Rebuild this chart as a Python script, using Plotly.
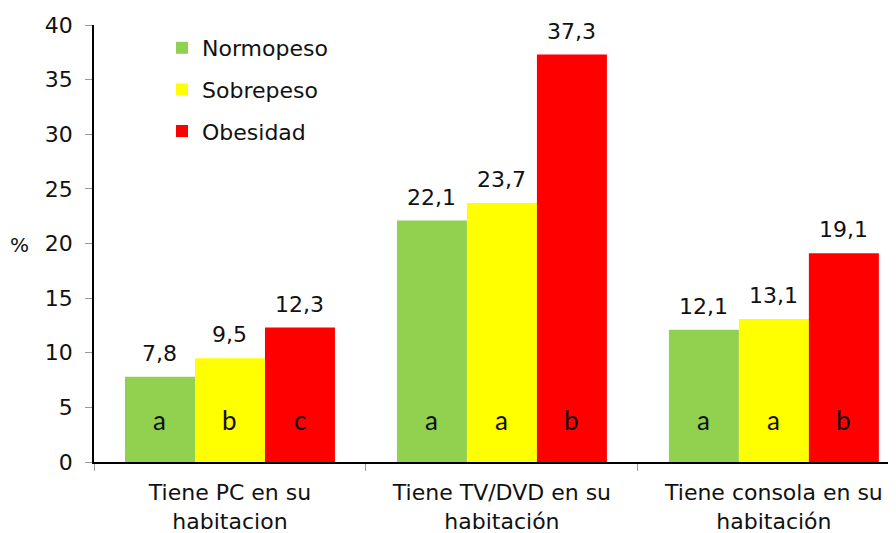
import plotly.graph_objects as go

categories = ["Tiene PC en su<br>habitacion", "Tiene TV/DVD en su<br>habitación", "Tiene consola en su<br>habitación"]
series_names = ["Normopeso", "Sobrepeso", "Obesidad"]
normopeso = [7.8, 22.1, 12.1]
sobrepeso = [9.5, 23.7, 13.1]
obesidad = [12.3, 37.3, 19.1]
letters_normopeso = ["a", "a", "a"]
letters_sobrepeso = ["b", "a", "a"]
letters_obesidad = ["c", "b", "b"]
y_ticks = [0, 5, 10, 15, 20, 25, 30, 35, 40]

values = [normopeso, sobrepeso, obesidad]
letters = [letters_normopeso, letters_sobrepeso, letters_obesidad]
colors = ["#92D050", "#FFFF00", "#FF0000"]

FONT = "DejaVu Sans"
bargap = 0.228
bw = (1 - bargap) / 3
offsets = [-bw, 0, bw]

# the page body has an 8px default margin; figure is sized to fill the rest
PAGE_OFF = 8
W, H = 896 - PAGE_OFF, 533 - PAGE_OFF
L, T, B, R = 94 - PAGE_OFF, 25 - PAGE_OFF, 71, 0
PW, PH = W - L - R, H - T - B

fig = go.Figure()
for i, name in enumerate(series_names):
    fig.add_trace(go.Bar(
        x=categories, y=values[i], name=name,
        marker=dict(color=colors[i], line=dict(width=0)),
        legendgroup=name,
    ))

annotations = []
for i in range(3):
    for j in range(3):
        v = values[i][j]
        annotations.append(dict(
            x=j + offsets[i], y=v, xref="x", yref="y",
            text=f"{v:.1f}".replace(".", ","), showarrow=False,
            yanchor="bottom", yshift=9,
            font=dict(family=FONT, size=22, color="#111111"),
        ))
        annotations.append(dict(
            x=j + offsets[i], y=3.8, xref="x", yref="y",
            text=letters[i][j], showarrow=False, yanchor="middle",
            font=dict(family="Lato", size=26, color="#111111"),
        ))
annotations.append(dict(
    x=(19 - 94) / PW, y=(462 - 245) / PH, xref="paper", yref="paper",
    text="%", showarrow=False, xanchor="center", yanchor="middle",
    font=dict(family=FONT, size=20, color="#111111"),
))

fig.update_layout(
    width=W, height=H,
    margin=dict(l=L, r=R, t=T, b=B, autoexpand=False),
    paper_bgcolor="white", plot_bgcolor="white",
    barmode="group", bargap=bargap, bargroupgap=0,
    font=dict(family=FONT, size=22, color="#111111"),
    showlegend=True,
    legend=dict(
        x=(162 - 94) / PW, y=(462 - 27) / PH, xanchor="left", yanchor="top",
        font=dict(family=FONT, size=22, color="#111111"),
        bgcolor="rgba(0,0,0,0)", tracegroupgap=10, traceorder="grouped",
    ),
    annotations=annotations,
)
fig.update_xaxes(
    type="category", range=[-0.5, 2.449],
    showline=True, linecolor="black", linewidth=1.5,
    ticks="outside", tickson="boundaries", ticklen=7, tickcolor="#999999", tickwidth=1,
    showgrid=False, tickfont=dict(family=FONT, size=22, color="#111111"),
    ticklabelstandoff=10,
)
fig.update_yaxes(
    range=[0, 40], tickvals=y_ticks,
    showline=True, linecolor="black", linewidth=1.5,
    ticks="outside", ticklen=7, tickcolor="#999999", tickwidth=1,
    showgrid=False, zeroline=False,
    tickfont=dict(family=FONT, size=22, color="#111111"),
    ticklabelstandoff=8,
)
fig.write_html("out.html")
